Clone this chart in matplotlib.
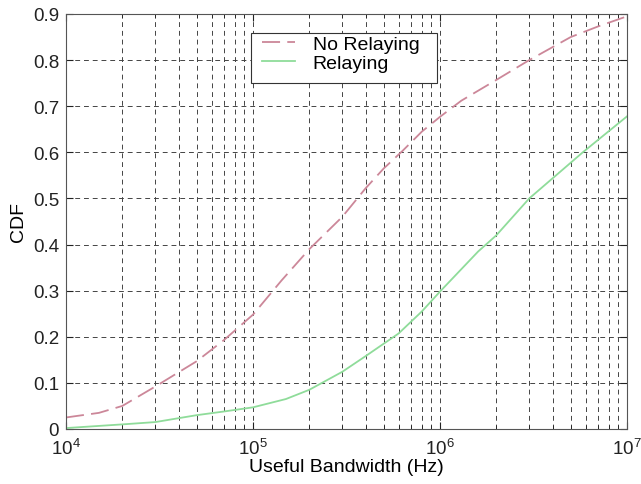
import matplotlib
matplotlib.use("Agg")
import matplotlib.pyplot as plt
from matplotlib.ticker import LogLocator, NullFormatter, FixedLocator
from matplotlib.patches import Rectangle

# Data
bw_norelay = [1e4, 1.5e4, 2e4, 3e4, 5e4, 7e4, 1e5, 1.42e5, 2e5, 3e5, 4e5,
              5e5, 6.3e5, 8e5, 1e6, 1.3e6, 2e6, 3e6, 5e6, 7e6, 1e7]
cdf_norelay = [0.025, 0.035, 0.05, 0.092, 0.147, 0.193, 0.248, 0.322, 0.39, 0.46,
               0.522, 0.565, 0.603, 0.645, 0.677, 0.712, 0.757, 0.80, 0.85, 0.873, 0.895]

bw_relay = [1e4, 2e4, 3e4, 5e4, 7e4, 1e5, 1.5e5, 2e5, 3e5, 4e5, 5e5, 6e5,
            8e5, 1e6, 1.6e6, 2e6, 3e6, 5.8e6, 1e7]
cdf_relay = [0.002, 0.01, 0.015, 0.03, 0.038, 0.047, 0.065, 0.085, 0.124, 0.158,
             0.185, 0.207, 0.255, 0.298, 0.385, 0.42, 0.5, 0.6, 0.678]

y_ticks = [0, 0.1, 0.2, 0.3, 0.4, 0.5, 0.6, 0.7, 0.8, 0.9]
y_tick_labels = ["0", "0.1", "0.2", "0.3", "0.4", "0.5", "0.6", "0.7", "0.8", "0.9"]
series_labels = ["No Relaying", "Relaying"]

plt.rcParams['font.family'] = ['Liberation Sans', 'DejaVu Sans']
plt.rcParams['mathtext.fontset'] = 'custom'
plt.rcParams['mathtext.rm'] = 'Liberation Sans'
plt.rcParams['mathtext.it'] = 'Liberation Sans'

W, H = 641, 485
L, R, T, B = 66, 627, 15, 430
fig = plt.figure(figsize=(W/100, H/100), dpi=100)
ax = fig.add_axes([L/W, 1-B/H, (R-L)/W, (B-T)/H])

def ax_frac(px, py):
    return (px - L) / (R - L), (B - py) / (B - T)

ax.plot(bw_norelay, cdf_norelay, color='#cc8799', lw=1.3, linestyle=(0, (10, 4)),
        label=series_labels[0])
ax.plot(bw_relay, cdf_relay, color='#8fdc9a', lw=1.3, label=series_labels[1])

ax.set_xscale('log')
ax.set_xlim(1e4, 1e7)
ax.set_ylim(0, 0.9)
ax.xaxis.set_major_locator(LogLocator(base=10, numticks=10))
ax.xaxis.set_minor_locator(LogLocator(base=10, subs=range(2, 10), numticks=20))
ax.xaxis.set_minor_formatter(NullFormatter())
ax.yaxis.set_major_locator(FixedLocator(y_ticks))
ax.set_yticklabels(y_tick_labels)

ax.grid(True, which='major', axis='both', color='#444444', linestyle=(0, (5, 4)), lw=0.7)
ax.grid(True, which='minor', axis='x', color='#444444', linestyle=(0, (5, 4)), lw=0.7)

ax.tick_params(which='both', direction='in', top=True, right=True, labelsize=13.5,
               colors='#222222')
ax.tick_params(which='major', length=5)
ax.tick_params(which='minor', length=3)
ax.tick_params(axis='x', pad=6.5)
ax.tick_params(axis='y', pad=5)
for s in ax.spines.values():
    s.set_color('#555555')
    s.set_linewidth(0.8)

ax.set_xlabel('Useful Bandwidth (Hz)', fontsize=14, labelpad=0)
ax.set_ylabel('CDF', fontsize=14, labelpad=4)

# legend box
x0, y1 = ax_frac(251, 34)
x1, y0 = ax_frac(437, 84)
ax.add_patch(Rectangle((x0, y0), x1 - x0, y1 - y0, transform=ax.transAxes,
                       facecolor='white', edgecolor='#333333', lw=0.8, zorder=4))
lx, ly = ax_frac(262, 36)
leg = ax.legend(loc='upper left', bbox_to_anchor=(lx, ly), fontsize=14,
                frameon=False, handlelength=1.7, borderpad=0, labelspacing=0.1,
                handletextpad=0.9, borderaxespad=0)
leg.set_zorder(5)

fig.savefig('out.png', dpi=100)
